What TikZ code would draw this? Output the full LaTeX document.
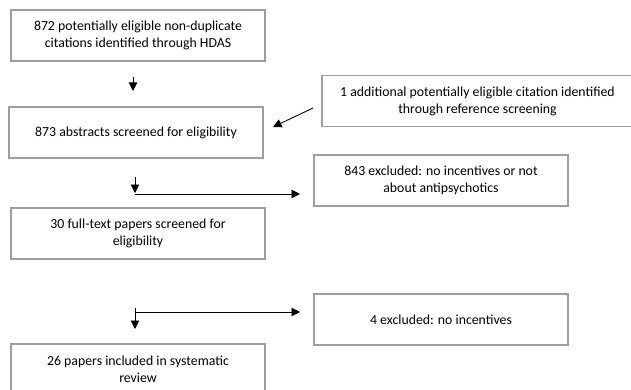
\documentclass[tikz,border=0pt]{standalone}
\usepackage{fontspec}
\setmainfont{Carlito}
\usetikzlibrary{arrows.meta}
\begin{document}
\begin{tikzpicture}[x=1pt,y=-1pt,
  box/.style={draw=black!38,line width=1.2pt,minimum height=51pt,inner sep=2pt,align=center,
    font=\fontsize{13.8}{17}\selectfont},
  conn/.style={line width=0.9pt,-{Triangle[length=8.5pt,width=8.5pt]}}]
\useasboundingbox (0,0) rectangle (631,390);
\node[box,minimum width=254pt] (b1) at (138,35.5) {872 potentially eligible non-duplicate\\citations identified through HDAS};
\node[box,minimum width=254pt] (b2) at (136,132.5) {873 abstracts screened for eligibility};
\node[box,minimum width=311pt] (add) at (477.5,101) {1 additional potentially eligible citation identified\\through reference screening};
\node[box,minimum width=254pt] (ex1) at (441,180.5) {843 excluded: no incentives or not\\about antipsychotics};
\node[box,minimum width=254pt] (b3) at (138,233.5) {30 full-text papers screened for\\eligibility};
\node[box,minimum width=254pt] (ex2) at (441,319.5) {4 excluded: no incentives};
\node[box,minimum width=254pt] (b4) at (138,369.5) {26 papers included in systematic\\review};
\coordinate (a1s) at (133,77);
\coordinate (a1e) at (133,91);
\coordinate (a2s) at (313,108);
\coordinate (a2e) at (273,127);
\coordinate (v1s) at (135,177);
\coordinate (v1e) at (135,193);
\coordinate (h1s) at (135,194);
\coordinate (h1e) at (300,194);
\coordinate (h2s) at (135,312);
\coordinate (h2e) at (300,312);
\coordinate (v2s) at (135,308);
\coordinate (v2e) at (135,329);
\draw[conn] (a1s) -- (a1e);
\draw[conn] (a2s) -- (a2e);
\draw[conn] (v1s) -- (v1e);
\draw[conn] (h1s) -- (h1e);
\draw[conn] (h2s) -- (h2e);
\draw[conn] (v2s) -- (v2e);
\end{tikzpicture}
\end{document}
